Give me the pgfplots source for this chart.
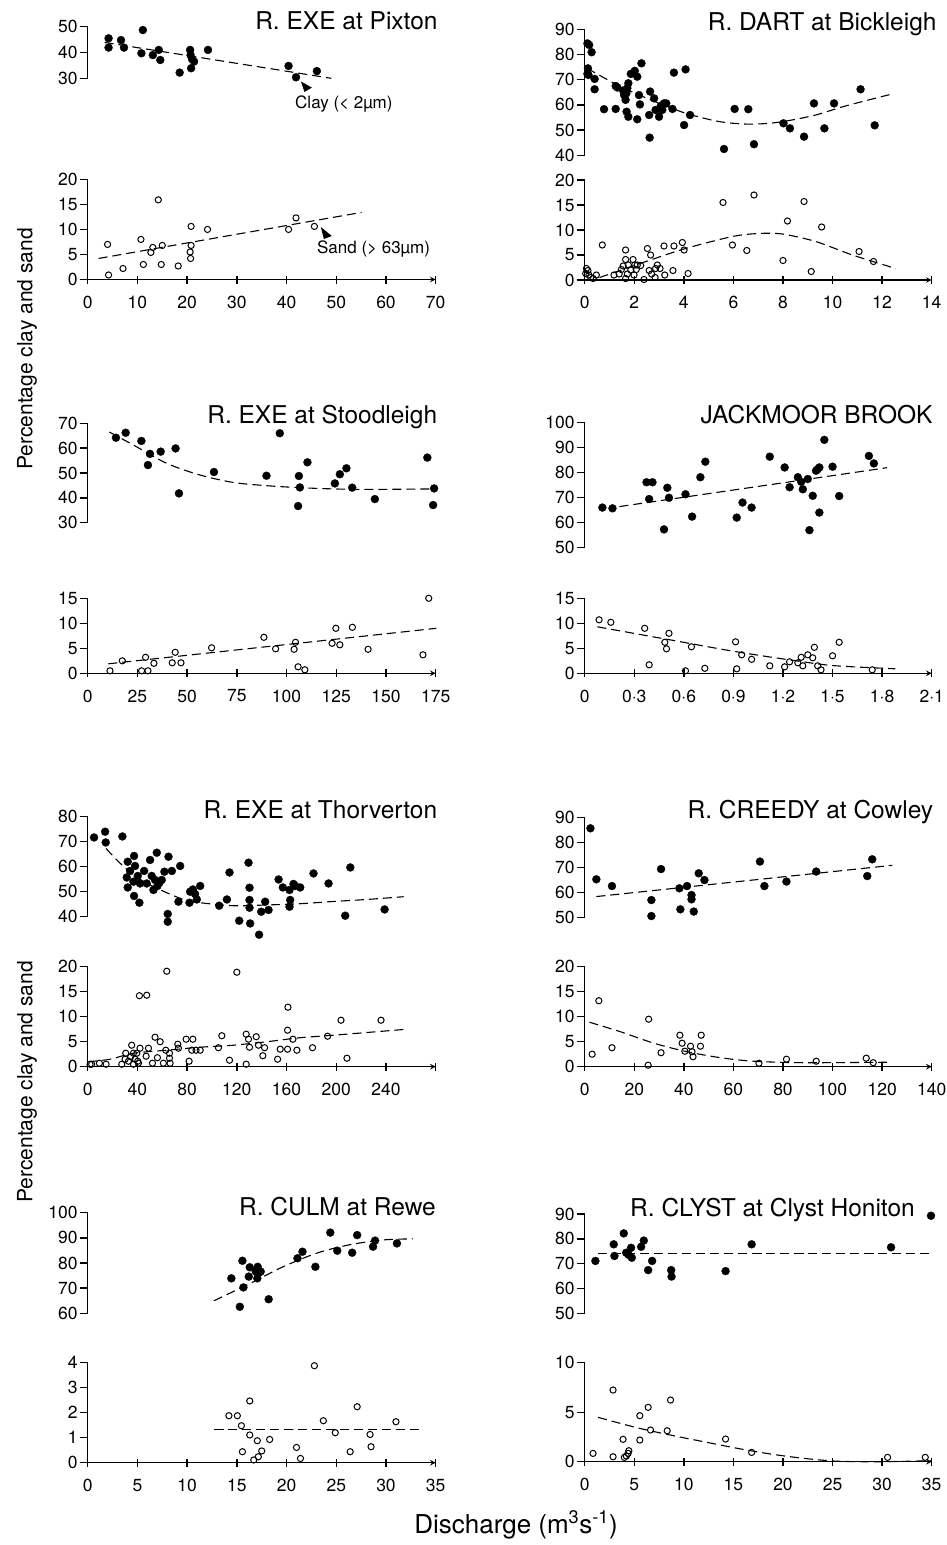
\documentclass[border=0pt]{standalone}
\usepackage{fontspec}
\setmainfont{TeX Gyre Heros}
\usepackage{pgfplots}
\pgfplotsset{compat=1.18}
\pgfplotsset{
  panel/.style={scale only axis, enlargelimits=false, clip=false,
    axis y line=left,
    axis line style={-, line width=1.5pt},
    tick align=outside, major tick length=8pt,
    tick style={line width=1.4pt, black},
    tick label style={font=\fontsize{17.5}{20}\selectfont},
    yticklabel style={inner sep=2pt},
    xticklabel style={yshift=-9pt},
    /pgf/number format/assume math mode=true,
  },
  clay/.style={panel, axis x line=none, xtick=\empty},
  sand/.style={panel, axis x line=bottom},
  cl/.style={only marks, mark=*, mark size=4pt, mark options={fill=black, draw=black, line width=0.3pt}},
  sd/.style={only marks, mark=o, mark size=3.1pt, mark options={draw=black, line width=1pt}},
  fit/.style={no marks, black, line width=1.1pt, dash pattern=on 9pt off 5pt, smooth},
}
\begin{document}
\begin{tikzpicture}
\useasboundingbox (0pt,0pt) rectangle (947pt,-1545pt);
% ---------------- Panel 1: R. EXE at Pixton
\begin{axis}[clay, at={(87.7pt,-78.3pt)}, anchor=south west, width=348pt, height=51.6pt,
  xmin=0, xmax=70, ymin=30, ymax=50, ytick={30,40,50}]
\addplot[cl] coordinates {(4.2,45.5)(4.2,41.9)(6.7,44.8)(7.3,41.9)(11.1,48.7)(10.8,39.7)(13.1,39.0)(14.3,41.0)(14.6,37.1)(18.5,32.2)(20.6,41.0)(20.7,39.0)(21.0,37.4)(21.4,36.5)(20.8,33.9)(24.2,41.0)(40.4,34.8)(41.9,30.4)(46.1,32.8)};
\addplot[fit] coordinates {(3.4,43.9)(49,30.0)};
\fill (axis cs:42.9,28.76) -- (axis cs:43.6,24.7) -- (axis cs:45.1,26.4) -- cycle;
\node[anchor=west, inner sep=0pt, font=\fontsize{17}{20}\selectfont] at (axis cs:41.7,20.0) {Clay (< 2µm)};
\end{axis}
\begin{axis}[sand, at={(87.7pt,-279.5pt)}, anchor=south west, width=348pt, height=100.2pt,
  xmin=0, xmax=70, ymin=0, ymax=20, ytick={0,5,10,15,20}, xtick={0,10,...,70}]
\addplot[sd] coordinates {(4.0,7.0)(4.2,0.9)(7.1,2.2)(10.7,8.0)(11.2,3.0)(12.7,5.4)(13.1,6.4)(14.2,15.9)(14.8,3.0)(15.0,6.8)(18.2,2.7)(20.8,10.6)(20.8,6.8)(20.6,5.5)(20.7,4.2)(24.1,10.0)(40.4,10.0)(41.9,12.3)(45.6,10.6)};
\addplot[fit] coordinates {(2.2,4.2)(55.1,13.4)};
\fill (axis cs:46.9,10.48) -- (axis cs:47.5,8.08) -- (axis cs:49.1,8.68) -- cycle;
\node[anchor=west, inner sep=0pt, font=\fontsize{17}{20}\selectfont] at (axis cs:46.1,6.09) {Sand (> 63µm)};
\end{axis}
% ---------------- Panel 2: R. DART at Bickleigh
\begin{axis}[clay, at={(584.7pt,-155.3pt)}, anchor=south west, width=347pt, height=126pt,
  xmin=0, xmax=14, ymin=40, ymax=90, ytick={40,50,...,90}]
\addplot[cl] coordinates {(0.11,84.4)(0.18,83.8)(0.28,80.9)(0.13,74.5)(0.11,72.3)(0.15,71.9)(0.40,70.3)(0.40,66.2)(0.78,58.3)(1.25,58.4)(1.25,67.5)(1.32,66.9)(1.55,65.7)(1.59,63.9)(1.65,62.0)(1.72,66.6)(1.76,68.6)(1.68,64.6)(1.69,57.3)(1.76,55.3)(1.86,72.3)(2.02,73.5)(2.12,71.2)(2.12,54.3)(2.19,63.9)(2.23,60.2)(2.29,76.5)(2.64,65.3)(2.80,62.6)(2.60,56.0)(2.62,47.0)(2.86,58.0)(3.0,55.3)(3.07,59.6)(3.13,58.0)(3.20,60.6)(3.29,60.6)(3.54,58.4)(3.60,72.8)(4.01,52.0)(4.07,74.1)(4.25,56.0)(5.62,42.5)(6.05,58.4)(6.60,58.3)(6.83,44.4)(8.02,52.7)(8.28,50.7)(8.85,47.4)(9.25,60.6)(9.67,50.7)(10.06,60.6)(11.13,66.2)(11.70,51.9)};
\addplot[fit] coordinates {(0.1,74.5)(1.4,67.5)(2.66,62)(4.07,56.7)(5.42,53.4)(6.5,52.4)(7.44,52.7)(8.24,53.8)(9.32,56.0)(10.53,59.6)(12.35,64.2)};
\end{axis}
\begin{axis}[sand, at={(584.7pt,-280pt)}, anchor=south west, width=347pt, height=100pt,
  xmin=0, xmax=14, ymin=0, ymax=20, ytick={0,5,10,15,20}, xtick={0,2,...,14}]
\addplot[sd] coordinates {(0.07,2.3)(0.13,1.9)(0.04,1.3)(0.17,1.0)(0.24,0.5)(0.47,1.0)(0.34,0.3)(0.71,7.0)(1.18,1.0)(1.39,1.2)(1.48,2.1)(1.55,2.8)(1.65,6.0)(1.65,4.1)(1.76,3.0)(1.72,1.2)(1.65,0.3)(1.86,2.0)(1.95,4.1)(2.02,3.0)(1.99,1.0)(2.08,2.1)(2.12,3.0)(2.26,2.9)(2.53,6.3)(2.66,5.0)(2.60,1.9)(2.70,1.2)(2.39,0.1)(2.86,2.3)(2.93,3.0)(3.04,2.3)(2.84,0.5)(3.23,1.0)(3.20,6.8)(3.56,1.9)(3.60,6.8)(3.94,7.5)(4.01,6.0)(4.17,1.3)(5.58,15.5)(5.96,7.0)(6.54,5.9)(6.83,17.0)(8.0,3.9)(8.18,11.8)(8.85,15.7)(9.14,1.7)(9.56,10.6)(11.07,5.7)(11.65,3.7)};
\addplot[fit] coordinates {(0.6,0.5)(2.53,3.8)(4.07,6.3)(5.96,8.7)(7.03,9.3)(7.97,9.2)(9.32,7.7)(10.8,5.0)(12.55,2.3)};
\end{axis}
% ---------------- Panel 3: R. EXE at Stoodleigh
\begin{axis}[clay, at={(87.7pt,-522.7pt)}, anchor=south west, width=348pt, height=99.4pt,
  xmin=0, xmax=175, ymin=30, ymax=70, ytick={30,40,...,70}]
\addplot[cl] coordinates {(14.2,64.2)(19.1,66.2)(27.0,62.9)(31.3,57.7)(30.3,53.2)(36.7,58.6)(44.2,59.9)(45.9,41.8)(63.5,50.4)(89.9,48.9)(96.6,66.0)(106.2,48.8)(106.7,44.2)(105.8,36.7)(110.5,54.3)(124.3,45.8)(126.8,49.5)(130.1,51.9)(133.0,44.1)(144.4,39.5)(170.8,56.2)(174.2,43.8)(173.7,37.1)};
\addplot[fit] coordinates {(10.9,66.5)(22.9,61.3)(39.7,53.9)(56.4,49.2)(73.2,46.2)(89.9,44.9)(106.7,44.1)(123.4,43.6)(140.2,43.4)(175.3,43.6)};
\end{axis}
\begin{axis}[sand, at={(87.7pt,-673.3pt)}, anchor=south west, width=348pt, height=75pt,
  xmin=0, xmax=175, ymin=0, ymax=15, ytick={0,5,10,15}, xtick={0,25,...,175}]
\addplot[sd] coordinates {(11.2,0.5)(17.4,2.5)(27.1,0.5)(29.1,3.2)(30.3,0.5)(33.3,2.0)(42.5,2.1)(44.0,4.2)(46.9,2.1)(62.3,5.1)(88.6,7.2)(94.5,4.9)(103.8,4.8)(104.5,6.2)(105.8,1.3)(109.2,0.7)(122.9,6.0)(124.8,9.0)(126.8,5.7)(133.1,9.2)(141.0,4.8)(168.6,3.7)(171.5,15.0)};
\addplot[fit] coordinates {(10.4,1.9)(175.3,9.0)};
\end{axis}
% ---------------- Panel 4: JACKMOOR BROOK
\begin{axis}[clay, at={(584.7pt,-547.7pt)}, anchor=south west, width=347pt, height=125.4pt,
  xmin=0, xmax=2.1, ymin=50, ymax=100, ytick={50,60,...,100}]
\addplot[cl] coordinates {(0.107,66.0)(0.168,65.7)(0.374,76.1)(0.41,76.1)(0.39,69.4)(0.48,57.3)(0.50,73.9)(0.51,69.9)(0.61,71.3)(0.65,62.4)(0.70,78.1)(0.73,84.3)(0.92,62.0)(0.955,68.0)(1.01,66.0)(1.12,86.3)(1.21,82.0)(1.24,74.1)(1.29,78.1)(1.31,76.3)(1.32,73.3)(1.35,77.4)(1.36,57.0)(1.38,70.7)(1.40,80.7)(1.41,81.3)(1.42,82.0)(1.42,64.0)(1.45,93.0)(1.50,82.3)(1.54,70.6)(1.72,86.6)(1.75,83.6)};
\addplot[fit] coordinates {(0.21,66.4)(1.83,81.9)};
\end{axis}
\begin{axis}[sand, at={(584.7pt,-673.3pt)}, anchor=south west, width=347pt, height=75pt,
  xmin=0, xmax=2.1, ymin=0, ymax=15, ytick={0,5,10,15}, xtick={0,0.3,0.6,0.9,1.2,1.5,1.8,2.1},
  xticklabel style={/pgf/number format/.cd, fixed, precision=1, set decimal separator={\textperiodcentered}}]
\addplot[sd] coordinates {(0.087,10.7)(0.158,10.2)(0.363,9.0)(0.39,1.7)(0.485,6.2)(0.495,4.9)(0.51,8.0)(0.61,0.5)(0.646,5.3)(0.727,1.0)(0.913,6.3)(0.92,0.9)(0.95,3.7)(1.01,2.8)(1.12,1.5)(1.21,1.3)(1.24,2.3)(1.29,2.1)(1.31,3.2)(1.32,1.5)(1.35,3.7)(1.38,3.1)(1.39,5.2)(1.41,1.5)(1.43,0.7)(1.50,3.5)(1.54,6.2)(1.74,0.7)};
\addplot[fit] coordinates {(0.077,9.3)(0.515,6.7)(0.92,4.3)(1.32,2.3)(1.52,1.5)(1.88,0.9)};
\end{axis}
% ---------------- Panel 5: R. EXE at Thorverton
\begin{axis}[clay, at={(87.7pt,-916.7pt)}, anchor=south west, width=348pt, height=100pt,
  xmin=0, xmax=280, ymin=40, ymax=80, ytick={40,50,...,80}]
\addplot[cl] coordinates {(5.1,71.7)(14.0,74.0)(14.5,69.7)(27.9,72.1)(32.2,62.0)(31.4,55.7)(32.2,51.7)(34.1,58.3)(37.3,64.3)(38.1,60.3)(36.8,54.0)(37.3,48.3)(40.3,56.3)(41.6,45.6)(42.1,53.3)(45.4,58.3)(47.5,53.3)(50.2,62.7)(51.5,56.3)(52.9,50.7)(54.2,54.7)(55.6,65.6)(56.1,52.3)(57.7,53.6)(59.6,54.7)(61.7,58.0)(65.0,64.0)(64.4,41.1)(64.4,38.0)(67.7,58.3)(73.0,46.0)(74.4,60.3)(81.9,45.6)(82.4,50.0)(84.6,50.9)(86.4,49.1)(87.8,46.9)(90.5,52.3)(105.8,44.4)(112.0,46.9)(114.1,57.7)(121.9,38.4)(129.4,61.6)(130.2,51.6)(130.2,46.7)(130.2,43.6)(130.7,37.3)(137.9,32.8)(139.6,42.0)(142.8,46.0)(145.5,42.7)(153.6,54.9)(157.0,51.7)(162.4,50.7)(162.9,46.7)(162.4,44.0)(165.6,53.1)(167.0,52.3)(171.0,51.7)(181.7,57.3)(193.8,53.3)(207.2,40.4)(211.3,59.7)(238.9,42.9)};
\addplot[fit] coordinates {(14.8,67.3)(23.4,62.7)(36.8,56.7)(50.2,52.7)(63.6,49.6)(77.0,46.9)(90.5,45.6)(117.3,44.4)(144.2,44.7)(171.0,45.2)(197.9,46.1)(224.7,46.9)(254.2,48.0)};
\end{axis}
\begin{axis}[sand, at={(87.7pt,-1066.7pt)}, anchor=south west, width=348pt, height=100pt,
  xmin=0, xmax=280, ymin=0, ymax=20, ytick={0,5,10,15,20}, xtick={0,40,...,280},
  xticklabels={0,40,80,120,160,200,240,{}}]
\addplot[sd] coordinates {(1.9,0.5)(3.2,0.5)(9.4,0.7)(14.8,0.5)(27.4,0.5)(30.6,2.7)(30.1,1.5)(32.8,1.1)(34.6,2.0)(35.4,4.3)(36.8,2.7)(36.8,0.5)(38.1,1.5)(39.5,2.7)(40.3,1.1)(40.8,0.7)(42.1,3.7)(41.6,14.2)(47.5,14.3)(47.0,2.1)(48.9,3.7)(52.1,0.7)(54.2,5.9)(56.1,1.8)(58.3,5.0)(63.6,19.1)(62.8,3.3)(60.9,0.7)(65.8,2.7)(66.3,0.7)(65.8,1.7)(72.5,4.5)(73.0,3.7)(79.2,5.5)(81.6,1.1)(84.6,5.5)(83.8,3.3)(87.2,3.3)(90.5,3.3)(105.2,3.8)(107.9,6.2)(114.1,1.3)(120.0,18.9)(127.5,6.5)(129.4,5.5)(130.2,3.9)(127.5,0.5)(135.6,6.0)(137.4,4.3)(140.9,2.2)(142.3,3.8)(152.8,1.5)(154.9,3.5)(160.8,7.3)(160.8,3.5)(161.1,11.9)(165.1,5.5)(168.3,3.3)(180.9,3.8)(193.0,6.1)(203.8,9.3)(208.6,1.7)(236.0,9.3)};
\addplot[fit] coordinates {(0.5,1.0)(18,1.5)(36.8,2.7)(63.6,3.3)(90.5,3.9)(117.3,4.3)(144.2,5.0)(171,5.8)(197.9,6.3)(256.9,7.5)};
\end{axis}
% ---------------- Panel 6: R. CREEDY at Cowley
\begin{axis}[clay, at={(584.7pt,-917.3pt)}, anchor=south west, width=347pt, height=100pt,
  xmin=0, xmax=140, ymin=50, ymax=90, ytick={50,60,...,90}]
\addplot[cl] coordinates {(2.3,85.6)(4.7,65.2)(11.0,62.5)(26.9,56.9)(26.9,50.5)(30.8,69.3)(38.2,61.6)(38.6,53.2)(41.3,62.5)(43.1,58.9)(43.1,57.2)(44.0,52.3)(46.0,67.6)(48.3,64.9)(70.7,72.3)(72.5,62.5)(81.4,64.3)(93.4,68.3)(114.0,66.5)(116.0,73.2)};
\addplot[fit] coordinates {(4.7,58.3)(124.1,70.8)};
\end{axis}
\begin{axis}[sand, at={(584.7pt,-1066.7pt)}, anchor=south west, width=347pt, height=100pt,
  xmin=0, xmax=140, ymin=0, ymax=20, ytick={0,5,10,15,20}, xtick={0,20,...,140}]
\addplot[sd] coordinates {(3.0,2.5)(5.7,13.2)(11.0,3.8)(25.6,0.3)(25.8,9.5)(30.8,2.8)(38.4,6.3)(39.3,4.7)(40.4,3.1)(42.7,4.1)(43.3,3.0)(43.7,2.0)(47.0,6.3)(46.7,4.1)(70.3,0.7)(81.4,1.5)(93.4,1.1)(113.6,1.7)(116.4,0.8)};
\addplot[fit] coordinates {(1.9,8.9)(14.4,7.0)(27.9,4.7)(41.3,3.0)(54.8,1.8)(68.2,1.1)(88.4,0.8)(123.4,0.9)};
\end{axis}
% ---------------- Panel 7: R. CULM at Rewe
\begin{axis}[clay, at={(87.7pt,-1313.3pt)}, anchor=south west, width=348pt, height=100.6pt,
  xmin=0, xmax=35, ymin=60, ymax=100, ytick={60,70,...,100}]
\addplot[cl] coordinates {(14.45,73.9)(15.3,62.6)(15.56,80.9)(15.66,70.3)(16.2,74.6)(16.3,78.3)(16.9,76.6)(17.06,73.9)(17.1,78.5)(17.23,76.2)(17.4,76.6)(18.2,65.6)(21.1,81.9)(21.6,84.5)(22.9,78.5)(24.4,92.1)(25.1,84.9)(26.6,84.1)(27.1,91.1)(28.7,86.5)(28.9,88.9)(31.1,87.8)};
\addplot[fit] coordinates {(12.7,65.0)(16.4,72.0)(19.7,78.6)(23.1,84.0)(26.4,87.3)(29.8,89.2)(32.7,89.6)};
\end{axis}
\begin{axis}[sand, at={(87.7pt,-1462.7pt)}, anchor=south west, width=348pt, height=100pt,
  xmin=0, xmax=35, ymin=0, ymax=4, ytick={0,1,2,3,4}, xtick={0,5,...,35}]
\addplot[sd] coordinates {(14.2,1.88)(15.05,1.88)(15.46,1.48)(15.56,0.44)(16.3,2.47)(16.3,1.11)(16.7,0.11)(17.06,0.88)(17.16,0.24)(17.5,0.47)(18.3,0.93)(21.0,0.61)(21.4,0.17)(22.8,3.88)(23.7,1.68)(24.9,1.2)(26.4,0.44)(27.1,2.24)(28.4,1.13)(28.5,0.64)(31.0,1.64)};
\addplot[fit] coordinates {(12.7,1.33)(33.4,1.33)};
\end{axis}
% ---------------- Panel 8: R. CLYST at Clyst Honiton
\begin{axis}[clay, at={(584.7pt,-1313.3pt)}, anchor=south west, width=347pt, height=99.3pt,
  xmin=0, xmax=35, ymin=50, ymax=90, ytick={50,60,...,90}]
\addplot[cl] coordinates {(1.08,71.1)(2.93,77.8)(3.0,73.1)(3.94,82.2)(4.18,74.4)(4.45,73.5)(4.68,76.4)(4.75,72.4)(5.69,76.8)(5.96,79.3)(6.80,71.1)(6.40,67.4)(8.72,67.4)(8.76,64.8)(14.21,67.0)(16.84,77.8)(30.9,76.6)(34.93,89.3)};
\addplot[fit] coordinates {(1.35,74.1)(34.9,74.1)};
\end{axis}
\begin{axis}[sand, at={(584.7pt,-1461.7pt)}, anchor=south west, width=347pt, height=99pt,
  xmin=0, xmax=35, ymin=0, ymax=10, ytick={0,5,10}, xtick={0,5,...,35}]
\addplot[sd] coordinates {(0.84,0.84)(2.86,7.24)(2.86,0.5)(3.87,2.26)(4.0,0.44)(4.2,0.57)(4.38,0.84)(4.45,1.11)(5.56,4.65)(5.56,2.19)(6.40,5.49)(6.64,3.2)(8.32,3.13)(8.66,6.23)(14.21,2.29)(16.84,0.94)(30.55,0.44)(34.35,0.44)};
\addplot[fit] coordinates {(1.35,4.48)(5.29,3.43)(8.66,2.69)(12.0,2.02)(15.4,1.35)(18.8,0.77)(22.1,0.34)(25.5,0.05)(29.9,0.0)(34.9,0.1)};
\end{axis}
% ---------------- titles and labels
\begin{scope}[every node/.style={anchor=base east, inner sep=0pt, font=\fontsize{24.5}{28}\selectfont}]
\node at (437.7pt,-29.3pt) {R. EXE at Pixton};
\node at (936.7pt,-30pt) {R. DART at Bickleigh};
\node at (437.3pt,-423.3pt) {R. EXE at Stoodleigh};
\node at (932.7pt,-423.3pt) {JACKMOOR BROOK};
\node at (437.3pt,-818.3pt) {R. EXE at Thorverton};
\node at (933.3pt,-818.3pt) {R. CREEDY at Cowley};
\node at (436pt,-1215pt) {R. CULM at Rewe};
\node at (915pt,-1216pt) {R. CLYST at Clyst Honiton};
\end{scope}
\node[rotate=90, font=\fontsize{21}{24}\selectfont] at (27pt,-349pt) {Percentage clay and sand};
\node[rotate=90, font=\fontsize{21}{24}\selectfont] at (27pt,-1082pt) {Percentage clay and sand};
\node[anchor=base, inner sep=0pt, font=\fontsize{26}{30}\selectfont] at (516pt,-1533pt) {Discharge (m\textsuperscript{3}s\textsuperscript{-1})};
\end{tikzpicture}
\end{document}
